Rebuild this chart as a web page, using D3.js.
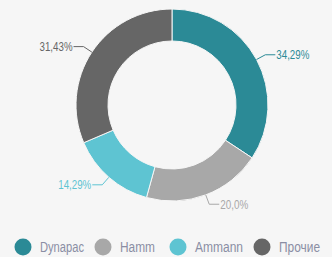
<!DOCTYPE html>
<meta charset="utf-8">
<style>
  html, body { margin: 0; padding: 0; background: #f6f6f6; }
  body { font-family: 'Liberation Sans Narrow', 'Liberation Sans', Arial, sans-serif; }
  .lbl { font-size: 13px; }
  .legend text { font-size: 14px; fill: #8a8ea4; }
</style>
<body>
<div id="viz"></div>
<script src="https://d3js.org/d3.v7.min.js"></script>
<script>
// data
var categories = ['Dynapac', 'Hamm', 'Ammann', 'Прочие'];
var values = [12, 7, 5, 11];
var labels = ['34,29%', '20,0%', '14,29%', '31,43%'];
var colors = ['#2b8a96', '#a8a8a8', '#5ec4d2', '#666666'];

var width = 332, height = 257;
var cx = 172, cy = 105, outerR = 96, innerR = 64;

// condensed look: squeeze text to the widths seen in the picture
var labelW = [33, 28, 33, 33];
var legendW = [44, 35, 48, 41];

var svg = d3.select('#viz').append('svg')
    .attr('width', width)
    .attr('height', height);

var color = d3.scaleOrdinal().domain(categories).range(colors);

var pie = d3.pie().sort(null).value(function(d) { return d.value; });
var data = categories.map(function(c, i) { return {key: c, value: values[i], label: labels[i], w: labelW[i]}; });
var arcs = pie(data);

var arc = d3.arc().innerRadius(innerR).outerRadius(outerR);

var g = svg.append('g').attr('transform', 'translate(' + cx + ',' + cy + ')');

g.selectAll('path')
    .data(arcs)
    .enter().append('path')
    .attr('d', arc)
    .attr('fill', function(d) { return color(d.data.key); })
    .attr('stroke', '#f6f6f6')
    .attr('stroke-width', 1);

// leader lines + labels
function pt(a, r) { return [r * Math.sin(a), -r * Math.cos(a)]; }

arcs.forEach(function(d) {
  var mid = (d.startAngle + d.endAngle) / 2;
  var p0 = pt(mid, outerR), p1 = pt(mid, outerR + 10);
  var right = Math.sin(mid) > 0;
  var p2 = [p1[0] + (right ? 10 : -10), p1[1]];
  g.append('polyline')
      .attr('points', [p0, p1, p2].map(function(p) { return p.join(','); }).join(' '))
      .attr('fill', 'none')
      .attr('stroke', color(d.data.key))
      .attr('stroke-width', 1);
  g.append('text')
      .attr('class', 'lbl')
      .attr('x', p2[0] + (right ? 1 : -1))
      .attr('y', p2[1])
      .attr('dy', '0.35em')
      .attr('text-anchor', right ? 'start' : 'end')
      .attr('textLength', d.data.w)
      .attr('lengthAdjust', 'spacingAndGlyphs')
      .attr('fill', color(d.data.key))
      .text(d.data.label);
});

// legend
var legendX = [23, 103, 178, 262];
var legend = svg.append('g').attr('class', 'legend');
var item = legend.selectAll('g')
    .data(categories)
    .enter().append('g')
    .attr('transform', function(d, i) { return 'translate(' + legendX[i] + ',247)'; });
item.append('circle')
    .attr('r', 8.5)
    .attr('fill', function(d) { return color(d); });
item.append('text')
    .attr('x', 17)
    .attr('dy', '0.35em')
    .attr('textLength', function(d, i) { return legendW[i]; })
    .attr('lengthAdjust', 'spacingAndGlyphs')
    .text(function(d) { return d; });
</script>
</body>
